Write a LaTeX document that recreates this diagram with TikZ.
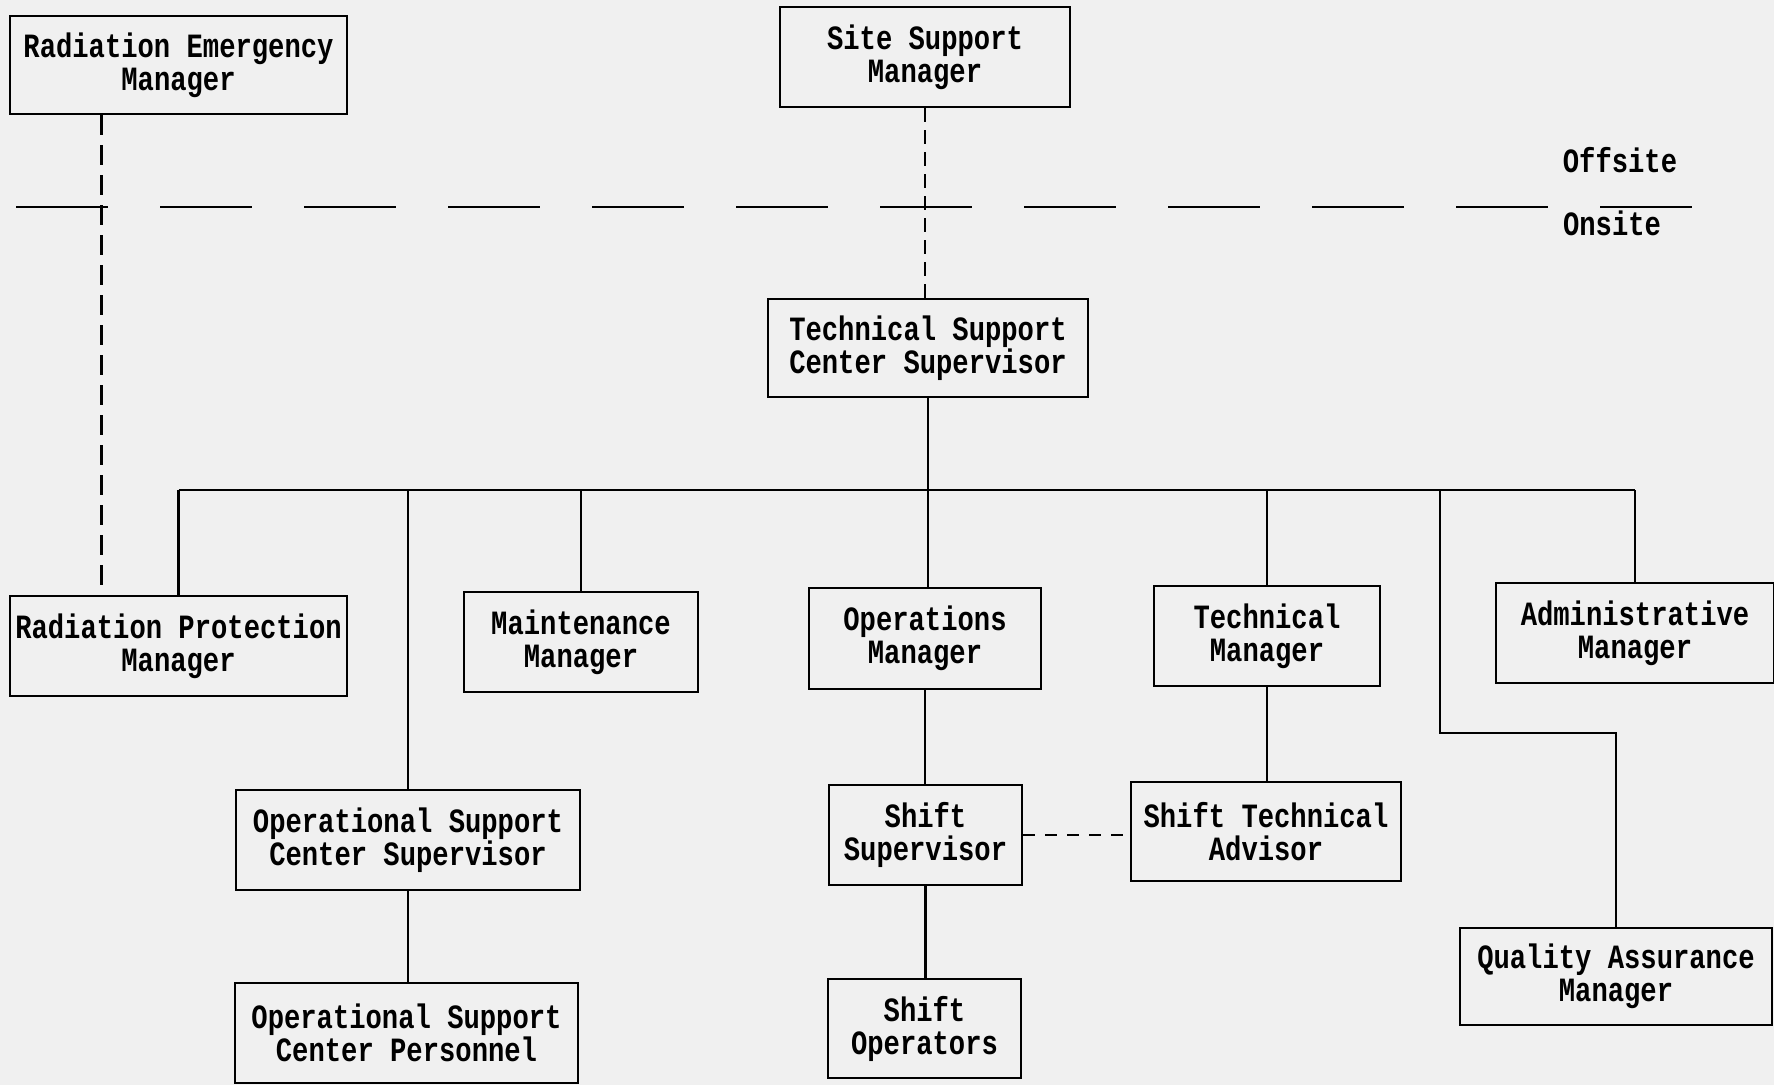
\documentclass[tikz,border=0pt]{standalone}
\usepackage{fontspec}
\setmonofont[FakeStretch=0.8]{Liberation Mono}

\begin{document}
\begin{tikzpicture}[x=0.5pt, y=-0.5pt,
  box/.style={draw, line width=1.3pt, align=center, inner sep=0pt,
    font=\ttfamily\bfseries\fontsize{17}{16.5}\selectfont},
  tag/.style={font=\ttfamily\bfseries\fontsize{17}{16.5}\selectfont},
  link/.style={line width=1.3pt},
  dashlink/.style={line width=1.3pt, dash pattern=on 10pt off 5pt}]

% Paper
\fill[black!6] (0,0) rectangle (1774,1085);
\useasboundingbox (0,0) rectangle (1774,1085);

% Offsite managers
\node[box, minimum width=168.5pt, minimum height=49pt] (rem) at (178.5,65) {Radiation Emergency\\Manager};
\node[box, minimum width=145pt, minimum height=50pt] (ssm) at (925,57) {Site Support\\Manager};

% Offsite / onsite boundary
\coordinate (divL) at (16,207);
\coordinate (divR) at (1703,207);
\draw[link, dash pattern=on 46pt off 26pt] (divL) -- (divR);
\node[tag] (offsite) at (1620,160) {Offsite};
\node[tag] (onsite) at (1612,223) {Onsite};

% Technical support center
\node[box, minimum width=160pt, minimum height=49pt] (tscs) at (928,348) {Technical Support\\Center Supervisor};

% Managers
\node[box, minimum width=168.5pt, minimum height=50pt] (rpm) at (178.5,646) {Radiation Protection\\Manager};
\node[box, minimum width=117pt, minimum height=50pt] (mm) at (581,642) {Maintenance\\Manager};
\node[box, minimum width=116pt, minimum height=50.5pt] (om) at (925,638.5) {Operations\\Manager};
\node[box, minimum width=113pt, minimum height=50pt] (tm) at (1267,636) {Technical\\Manager};
\node[box, minimum width=139pt, minimum height=50pt] (am) at (1635,633) {Administrative\\Manager};

% Second row
\node[box, minimum width=172pt, minimum height=50pt] (oscs) at (408,840) {Operational Support\\Center Supervisor};
\node[box, minimum width=96.5pt, minimum height=50pt] (ss) at (925.5,835) {Shift\\Supervisor};
\node[box, minimum width=135pt, minimum height=49.5pt] (sta) at (1266,831.5) {Shift Technical\\Advisor};
\node[box, minimum width=156pt, minimum height=48.5pt] (qam) at (1616,976.5) {Quality Assurance\\Manager};

% Bottom row
\node[box, minimum width=171.5pt, minimum height=50pt] (oscp) at (406.5,1033) {Operational Support\\Center Personnel};
\node[box, minimum width=96.5pt, minimum height=49.5pt] (so) at (924.5,1028.5) {Shift\\Operators};

% Bus from the supervisor
\coordinate (bus) at (0,490);
\draw[link] (tscs.south) -- (tscs.south |- om.north);
\draw[link] (rpm.north |- bus) -- (am.north |- bus);
\foreach \n in {rpm, oscs, mm, tm, am}
  \draw[link] (\n.north) -- (\n.north |- bus);

% Quality assurance branch
\coordinate (qabend) at (1440,733);
\draw[link] (qabend |- bus) -- (qabend) -| (qam.north);

% Lines within each branch
\draw[link] (om.south) -- (om.south |- ss.north);
\draw[link] (ss.south) -- (ss.south |- so.north);
\draw[link] (tm.south) -- (tm.south |- sta.north);
\draw[link] (oscs.south) -- (oscs.south |- oscp.north);

% Dashed lines
\draw[dashlink] ([xshift=46.5pt]rem.south west) -- ([xshift=46.5pt]rem.south west |- rpm.north);
\draw[link, dash pattern=on 7pt off 4pt] (ssm.south) -- (ssm.south |- tscs.north);
\draw[link, dash pattern=on 6pt off 5pt] (ss.east) -- (ss.east -| sta.west);
\end{tikzpicture}
\end{document}
